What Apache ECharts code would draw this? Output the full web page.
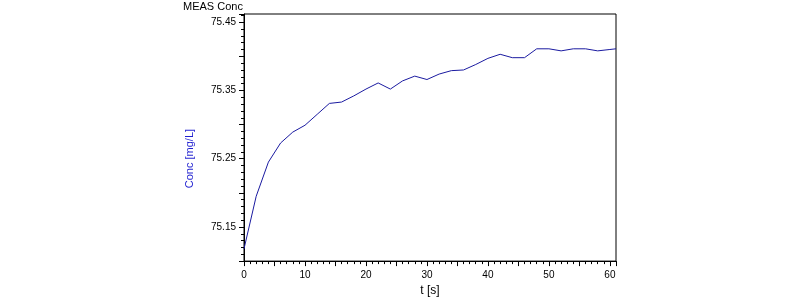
<!DOCTYPE html>
<html>
<head>
<meta charset="utf-8">
<script src="https://cdn.jsdelivr.net/npm/echarts@6/dist/echarts.min.js"></script>
<style>
html, body { margin: 0; padding: 0; background: #fff; }
#chart { width: 800px; height: 302px; }
</style>
</head>
<body>
<div id="chart"></div>
<script>
// measured concentration vs time
var times = [0, 2, 4, 6, 8, 10, 12, 14, 16, 18, 20, 22, 24, 26, 28, 30,
             32, 34, 36, 38, 40, 42, 44, 46, 48, 50, 52, 54, 56, 58, 60, 61];
var conc = [75.118, 75.195, 75.245, 75.273, 75.289, 75.299, 75.315, 75.331, 75.333, 75.342,
            75.352, 75.361, 75.352, 75.364, 75.371, 75.366, 75.374, 75.379, 75.380, 75.388,
            75.397, 75.403, 75.398, 75.398, 75.411, 75.411, 75.408, 75.411, 75.411, 75.408,
            75.410, 75.411];
var yLabels = ['75.15', '75.25', '75.35', '75.45'];
var xLabels = ['0', '10', '20', '30', '40', '50', '60'];

var points = [];
for (var i = 0; i < times.length; i++) {
    points.push([times[i], conc[i]]);
}

var font = 'Liberation Sans';
var option = {
    animation: false,
    title: {
        text: 'MEAS Conc',
        left: 183,
        top: 1,
        padding: 0,
        textStyle: { fontFamily: font, fontSize: 11, fontWeight: 'normal', color: '#000' }
    },
    grid: {
        left: 244, right: 184, top: 14, bottom: 38,
        show: true, borderColor: '#000', borderWidth: 1
    },
    xAxis: {
        type: 'value',
        min: 0, max: 61, interval: 5,
        name: 't [s]',
        nameLocation: 'middle',
        nameGap: 22,
        nameTextStyle: { fontFamily: font, fontSize: 12, color: '#000' },
        axisLine: { lineStyle: { color: '#000', width: 1 } },
        axisTick: { show: true, length: 5, lineStyle: { color: '#000' } },
        minorTick: { show: true, splitNumber: 5, length: 3, lineStyle: { color: '#000' } },
        splitLine: { show: false },
        axisLabel: {
            margin: 9,
            fontFamily: font, fontSize: 10, color: '#000',
            showMaxLabel: false,
            formatter: function (v) {
                var s = String(Math.round(v));
                return (Math.abs(v - Math.round(v)) < 1e-6 && xLabels.indexOf(s) >= 0) ? s : '';
            }
        }
    },
    yAxis: {
        type: 'value',
        min: 75.10, max: 75.462, interval: 0.05,
        name: 'Conc [mg/L]',
        nameLocation: 'middle',
        nameGap: 49,
        nameRotate: 90,
        nameTextStyle: { fontFamily: font, fontSize: 11, color: '#1f1fd0', padding: [0, 42, 0, 0] },
        axisLine: { show: true, lineStyle: { color: '#000', width: 1 } },
        axisTick: { show: true, length: 5, lineStyle: { color: '#000' } },
        minorTick: { show: true, splitNumber: 5, length: 3, lineStyle: { color: '#000' } },
        splitLine: { show: false },
        axisLabel: {
            margin: 8,
            fontFamily: font, fontSize: 10, color: '#000',
            showMaxLabel: false,
            formatter: function (v) {
                var s = v.toFixed(2);
                return yLabels.indexOf(s) >= 0 ? s : '';
            }
        }
    },
    series: [{
        type: 'line',
        data: points,
        showSymbol: false,
        symbol: 'none',
        lineStyle: { color: '#1a1aa0', width: 1 },
        itemStyle: { color: '#1a1aa0' }
    }]
};

var chart = echarts.init(document.getElementById('chart'), null, { renderer: 'canvas' });
chart.setOption(option);
</script>
</body>
</html>
